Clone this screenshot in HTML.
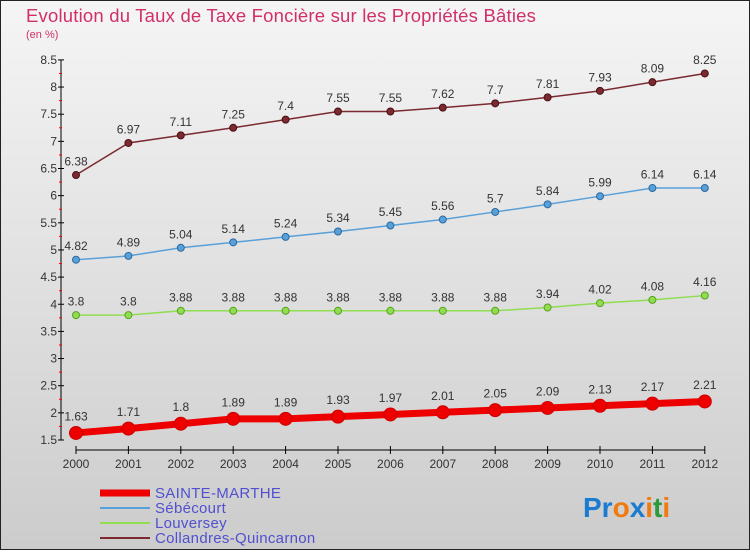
<!DOCTYPE html>
<html><head><meta charset="utf-8"><style>
body{margin:0;width:750px;height:550px;overflow:hidden;font-family:"Liberation Sans",sans-serif}
</style></head><body>
<svg width="750" height="550" xmlns="http://www.w3.org/2000/svg" font-family="Liberation Sans, sans-serif">
<defs><linearGradient id="bg" x1="0" y1="0" x2="0" y2="1"><stop offset="0" stop-color="#f5f5f5"/><stop offset="1" stop-color="#cccccc"/></linearGradient></defs>
<rect x="0.5" y="0.5" width="749" height="549" fill="url(#bg)" stroke="#222"/>
<text x="26" y="22" font-size="18.5" letter-spacing="0.2" fill="#d0306a">Evolution du Taux de Taxe Foncière sur les Propriétés Bâties</text>
<text x="26" y="38" font-size="11" fill="#d0306a">(en %)</text>
<g id="axes"></g>
<g id="series"></g>
<g id="legend"></g>
<text x="583" y="517" font-size="28" font-weight="bold"><tspan fill="#1a7bd0">Pr</tspan><tspan fill="#f07a10">o</tspan><tspan fill="#1a7bd0">x</tspan><tspan fill="#f07a10">i</tspan><tspan fill="#2a9a3a">t</tspan><tspan fill="#f07a10">i</tspan></text>
</svg>
<script>
const years=[2000,2001,2002,2003,2004,2005,2006,2007,2008,2009,2010,2011,2012];
const sainte=[1.63,1.71,1.8,1.89,1.89,1.93,1.97,2.01,2.05,2.09,2.13,2.17,2.21];
const sebe=[4.82,4.89,5.04,5.14,5.24,5.34,5.45,5.56,5.7,5.84,5.99,6.14,6.14];
const louv=[3.8,3.8,3.88,3.88,3.88,3.88,3.88,3.88,3.88,3.94,4.02,4.08,4.16];
const coll=[6.38,6.97,7.11,7.25,7.4,7.55,7.55,7.62,7.7,7.81,7.93,8.09,8.25];
const yTicks=[1.5,2,2.5,3,3.5,4,4.5,5,5.5,6,6.5,7,7.5,8,8.5];
const NS="http://www.w3.org/2000/svg";
const X=i=>76+i*52.4, Y=v=>440-(v-1.5)*54.3;
function mk(t,a,p){const e=document.createElementNS(NS,t);for(const k in a)e.setAttribute(k,a[k]);p.appendChild(e);return e;}
const ax=document.getElementById('axes');
const ya=mk('line',{x1:61,y1:60,x2:61,y2:440,stroke:'#000'},ax);


const xa=mk('line',{x1:76,y1:450,x2:705,y2:450,stroke:'#000'},ax);


yTicks.forEach((v,i)=>{
 mk('line',{x1:58,x2:64,y1:Y(v),y2:Y(v),stroke:'#000'},ax);
 if(i<yTicks.length-1)mk('line',{x1:59,x2:62,y1:Y(v+0.25),y2:Y(v+0.25),stroke:'#f00'},ax);
 const t=mk('text',{x:57,y:Y(v)+4,'text-anchor':'end','font-size':12,fill:'#333'},ax);t.textContent=v;
 
 
});
years.forEach((y,i)=>{
 mk('line',{x1:X(i),x2:X(i),y1:446,y2:454,stroke:'#000'},ax);
 const t=mk('text',{x:X(i),y:468,'text-anchor':'middle','font-size':12,fill:'#333'},ax);t.textContent=y;
 
 
});
const sg=document.getElementById('series');
function draw(vals,col,w,r,name,dark){
 const g=mk('g',{},sg);
 
 
 mk('polyline',{points:vals.map((v,i)=>X(i)+','+Y(v)).join(' '),fill:'none',stroke:col,'stroke-width':w},g);
 vals.forEach((v,i)=>{
  const c=mk('circle',{cx:X(i),cy:Y(v),r:r,fill:col,stroke:dark,'stroke-width':1},g);
  
  
  const t=mk('text',{x:X(i),y:Y(v)-(r+6),'text-anchor':'middle','font-size':12,fill:'#333'},g);t.textContent=v;
 });
}
draw(coll,'#7a2a30',1.5,3.5,'collandres-series','#4a1015');
draw(sebe,'#5aa0d8',1.5,3.5,'sebecourt-series','#2a6aa0');
draw(louv,'#90dd50',1.5,3.5,'louversey-series','#5aa020');
draw(sainte,'#ee0000',7,6.5,'sainte-marthe-series','#c00');
const lg=document.getElementById('legend');
[['SAINTE-MARTHE','#ee0000',7],['Sébécourt','#5aa0d8',2],['Louversey','#90dd50',2],['Collandres-Quincarnon','#7a2a30',2]].forEach((d,i)=>{
 const y=493+i*15;
 const g=mk('g',{},lg);
 
 
 mk('line',{x1:100,x2:150,y1:y,y2:y,stroke:d[1],'stroke-width':d[2]},g);
 const t=mk('text',{x:155,y:y+5,'font-size':15,'letter-spacing':0.3,fill:'#5050d0'},g);t.textContent=d[0];
});
</script>
</body></html>
